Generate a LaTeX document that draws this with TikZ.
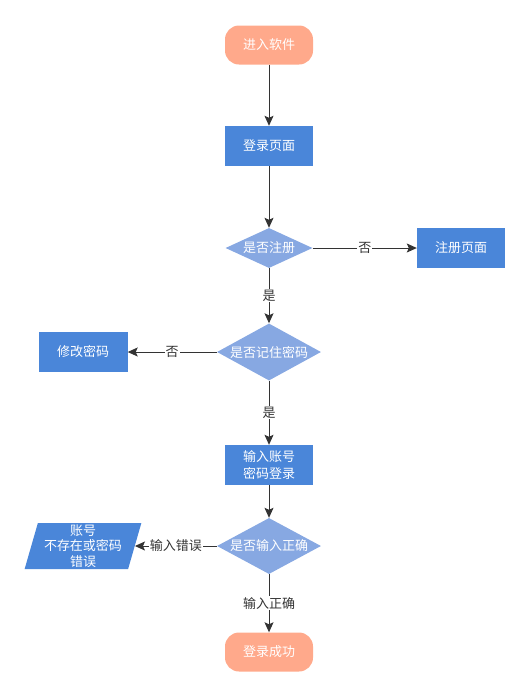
\documentclass[tikz,border=0pt]{standalone}
\usepackage{fontspec}
\setmainfont{Noto Sans CJK SC}
\usepackage{tikz}
\usetikzlibrary{arrows.meta}
\usetikzlibrary{shapes.geometric}

\definecolor{salmon}{HTML}{FFA98B}
\definecolor{boxblue}{HTML}{4A86D9}
\definecolor{diablue}{HTML}{87A8E2}
\definecolor{linegray}{HTML}{333333}

\tikzset{
    every node/.style={font=\fontsize{13}{17}\selectfont},
    terminal/.style={rounded corners=14pt, fill=salmon, text=white, minimum width=88pt, minimum height=39pt},
    process/.style={rectangle, fill=boxblue, text=white, minimum width=88pt, minimum height=40pt, align=center},
    decision/.style={diamond, aspect=2, inner sep=0pt, fill=diablue, text=white},
    datain/.style={trapezium, trapezium left angle=75, trapezium right angle=105, trapezium stretches=true,
        fill=boxblue, text=white, minimum width=117pt, minimum height=46pt, align=center, inner sep=0pt,
        font=\fontsize{13}{15.5}\selectfont},
    edgelabel/.style={fill=white, text=linegray, inner sep=1pt},
    flow/.style={draw=linegray, line width=1pt, -{Stealth[length=10pt, width=9pt, inset=2pt]}}
}

\begin{document}
\begin{tikzpicture}[x=1pt, y=-1pt]
    \useasboundingbox (0,0) rectangle (531,697);

    % main column
    \node [terminal] (start) at (269, 45) {进入软件};
    \node [process] (login) at (269, 146) {登录页面};
    \node [decision, minimum width=87pt, minimum height=40pt] (isreg) at (269, 248) {是否注册};
    \node [decision, minimum width=104pt, minimum height=57pt] (isremember) at (269, 352) {是否记住密码};
    \node [process] (input) at (269, 465) {输入账号\\密码登录};
    \node [decision, minimum width=104pt, minimum height=56pt] (iscorrect) at (269, 546) {是否输入正确};
    \node [terminal] (success) at (269, 652) {登录成功};

    % side boxes
    \node [process] (regpage) at (461, 248) {注册页面};
    \node [process, minimum width=89pt] (changepw) at (83, 352) {修改密码};
    \node [datain] (error) at (83, 546) {账号\\不存在或密码\\错误};

    % connectors
    \draw [flow] (start) -- (login);
    \draw [flow] (login) -- (isreg);
    \draw [flow] (isreg) -- node [edgelabel] {否} (regpage);
    \draw [flow] (isreg) -- node [edgelabel] {是} (isremember);
    \draw [flow] (isremember) -- node [edgelabel] {否} (changepw);
    \draw [flow] (isremember) -- node [edgelabel] {是} (input);
    \draw [flow] (input) -- (iscorrect);
    \draw [flow] (iscorrect) -- node [edgelabel] {输入错误} (error);
    \draw [flow] (iscorrect) -- node [edgelabel] {输入正确} (success);
\end{tikzpicture}
\end{document}
